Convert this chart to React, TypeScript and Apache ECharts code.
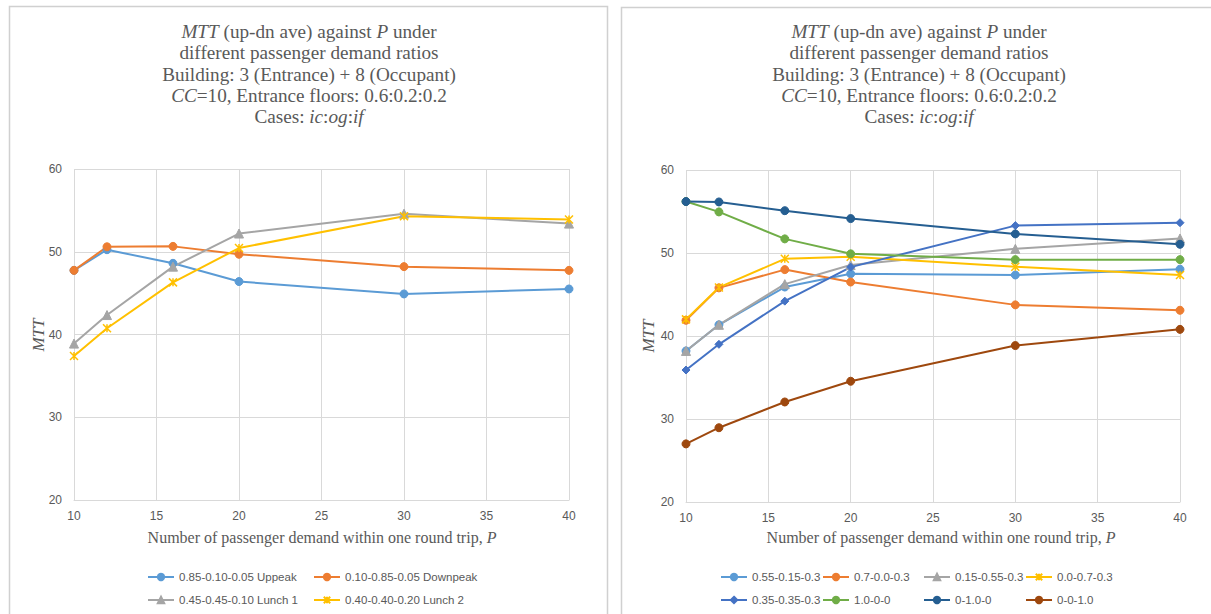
import React, { useEffect, useRef } from "react";
import * as echarts from "echarts";

const P = [10, 12, 16, 20, 30, 40];

// Left chart
const leftNames = ["0.85-0.10-0.05 Uppeak", "0.10-0.85-0.05 Downpeak", "0.45-0.45-0.10 Lunch 1", "0.40-0.40-0.20 Lunch 2"];
const uppeak = [47.75, 50.25, 48.6, 46.4, 44.9, 45.5];
const downpeak = [47.75, 50.6, 50.65, 49.7, 48.2, 47.75];
const lunch1 = [38.9, 42.35, 48.2, 52.2, 54.6, 53.4];
const lunch2 = [37.4, 40.75, 46.3, 50.45, 54.3, 53.9];

// Right chart
const rightNames = ["0.55-0.15-0.3", "0.7-0.0-0.3", "0.15-0.55-0.3", "0.0-0.7-0.3", "0.35-0.35-0.3", "1.0-0-0", "0-1.0-0", "0-0-1.0"];
const r055 = [38.2, 41.35, 45.9, 47.5, 47.35, 48.05];
const r07 = [41.9, 45.8, 48.0, 46.5, 43.75, 43.1];
const r015 = [38.2, 41.35, 46.25, 48.55, 50.5, 51.75];
const r00 = [42.0, 45.85, 49.3, 49.55, 48.35, 47.35];
const r035 = [35.9, 39.0, 44.2, 48.3, 53.3, 53.65];
const r10 = [56.2, 54.95, 51.7, 49.9, 49.2, 49.2];
const r01 = [56.2, 56.15, 55.1, 54.15, 52.3, 51.05];
const r001 = [27.0, 28.95, 32.05, 34.55, 38.85, 40.8];

const xTicks = { min: 10, max: 40, interval: 5 };
const yTicks = { min: 20, max: 60, interval: 10 };

const STAR = "path://M0,0L10,10M10,0L0,10M5,0L5,10";

const COLORS = {
  blue: "#5B9BD5",
  orange: "#ED7D31",
  gray: "#A5A5A5",
  yellow: "#FFC000",
  blue2: "#4472C4",
  green: "#70AD47",
  dblue: "#255E91",
  brown: "#9E480E",
};

const TXT = "#595959";
const GRID = "#D9D9D9";
const SERIF = "'Liberation Serif', 'Times New Roman', serif";
const SANS = "'Liberation Sans', Arial, sans-serif";

function mk(name: string, vals: number[], color: string, symbol: string, idx: number, size = 8) {
  const isStar = symbol === STAR;
  return {
    type: "line",
    name,
    xAxisIndex: idx,
    yAxisIndex: idx,
    data: P.map((p, i) => [p, vals[i]]),
    symbol,
    symbolSize: size,
    showAllSymbol: true,
    lineStyle: { color, width: 2 },
    itemStyle: isStar
      ? { color: "none", borderColor: color, borderWidth: 1.5 }
      : { color, borderColor: color, borderWidth: 1 },
    emphasis: { disabled: true },
    z: 3,
  };
}

export default function App() {
  const ref = useRef<HTMLDivElement>(null);
  useEffect(() => {
    if (!ref.current) return;
    const chart = echarts.init(ref.current, undefined, { renderer: "svg" });

    const titleText =
      "{i|MTT} (up-dn ave) against {i|P} under\ndifferent passenger demand ratios\nBuilding: 3 (Entrance) + 8 (Occupant)\n{i|CC}=10, Entrance floors: 0.6:0.2:0.2\nCases: {i|ic}:{i|og}:{i|if}";
    const titleRich = {
      i: { fontStyle: "italic", fontFamily: SERIF, fontSize: 19.2, fill: TXT, lineHeight: 21.3 },
    };
    const mkTitle = (cx: number) => ({
      type: "text",
      x: cx,
      y: 21,
      style: {
        text: titleText,
        rich: titleRich,
        fontFamily: SERIF,
        fontSize: 19.2,
        lineHeight: 21.3,
        fill: TXT,
        align: "center",
        verticalAlign: "top",
      },
    });
    const mkXName = (cx: number) => ({
      type: "text",
      x: cx,
      y: 537,
      style: {
        text: "Number of passenger demand within one round trip, {i|P}",
        rich: { i: { fontStyle: "italic", fontFamily: SERIF, fontSize: 16, fill: TXT } },
        fontFamily: SERIF,
        fontSize: 16,
        fill: TXT,
        align: "center",
        verticalAlign: "middle",
      },
    });
    const mkYName = (x: number, y: number) => ({
      type: "text",
      x,
      y,
      rotation: Math.PI / 2,
      style: {
        text: "MTT",
        fontFamily: SERIF,
        fontStyle: "italic",
        fontSize: 17,
        fill: TXT,
        align: "center",
        verticalAlign: "middle",
      },
    });

    const axisCommon = {
      type: "value",
      axisLine: { show: true, lineStyle: { color: GRID, width: 1 } },
      axisTick: { show: false },
      splitLine: { show: true, lineStyle: { color: GRID, width: 1 } },
      axisLabel: { color: TXT, fontFamily: SANS, fontSize: 12 },
    };

    const legendText = { color: TXT, fontFamily: SANS, fontSize: 11.5 };
    const leg = (name: string, left: number, top: number) => ({
      data: [name],
      left,
      top,
      padding: 0,
      itemWidth: 26,
      itemHeight: 8,
      itemGap: 0,
      textStyle: legendText,
      selectedMode: false,
    });

    const leftCols = [147, 313];
    const rightCols = [720, 822, 923, 1025];
    const rows = [571, 594];

    const legends = [
      leg(leftNames[0], leftCols[0], rows[0]),
      leg(leftNames[1], leftCols[1], rows[0]),
      leg(leftNames[2], leftCols[0], rows[1]),
      leg(leftNames[3], leftCols[1], rows[1]),
      ...rightNames.map((n, i) => leg(n, rightCols[i % 4], rows[Math.floor(i / 4)])),
    ];

    chart.setOption({
      animation: false,
      backgroundColor: "#ffffff",
      grid: [
        { left: 74, top: 169, width: 495, height: 331, containLabel: false },
        { left: 686, top: 170, width: 494, height: 332, containLabel: false },
      ],
      xAxis: [0, 1].map((g) => ({
        ...axisCommon,
        gridIndex: g,
        ...xTicks,
        axisLabel: { ...axisCommon.axisLabel, margin: 10 },
      })),
      yAxis: [0, 1].map((g) => ({
        ...axisCommon,
        gridIndex: g,
        ...yTicks,
        axisLine: { show: false },
        axisLabel: { ...axisCommon.axisLabel, margin: 12 },
      })),
      legend: legends,
      graphic: [
        {
          type: "rect",
          shape: { x: 9.5, y: 6.5, width: 598, height: 640 },
          style: { fill: "none", stroke: "#D0D0D0", lineWidth: 1.5 },
          silent: true,
        },
        {
          type: "rect",
          shape: { x: 621.5, y: 7.5, width: 640, height: 640 },
          style: { fill: "none", stroke: "#D0D0D0", lineWidth: 1.5 },
          silent: true,
        },
        mkTitle(309),
        mkTitle(919),
        mkXName(322),
        mkXName(941),
        mkYName(38, 335),
        mkYName(648, 336),
      ],
      series: [
        mk(leftNames[0], uppeak, COLORS.blue, "circle", 0),
        mk(leftNames[1], downpeak, COLORS.orange, "circle", 0),
        mk(leftNames[2], lunch1, COLORS.gray, "triangle", 0, 9),
        mk(leftNames[3], lunch2, COLORS.yellow, STAR, 0, 8),
        mk(rightNames[0], r055, COLORS.blue, "circle", 1),
        mk(rightNames[1], r07, COLORS.orange, "circle", 1),
        mk(rightNames[2], r015, COLORS.gray, "triangle", 1, 9),
        mk(rightNames[3], r00, COLORS.yellow, STAR, 1, 8),
        mk(rightNames[4], r035, COLORS.blue2, "diamond", 1, 8),
        mk(rightNames[5], r10, COLORS.green, "circle", 1),
        mk(rightNames[6], r01, COLORS.dblue, "circle", 1),
        mk(rightNames[7], r001, COLORS.brown, "circle", 1),
      ],
    });
    return () => chart.dispose();
  }, []);

  return (
    <div
      ref={ref}
      style={{ position: "fixed", left: 0, top: 0, width: 1211, height: 614, background: "#fff" }}
    />
  );
}
